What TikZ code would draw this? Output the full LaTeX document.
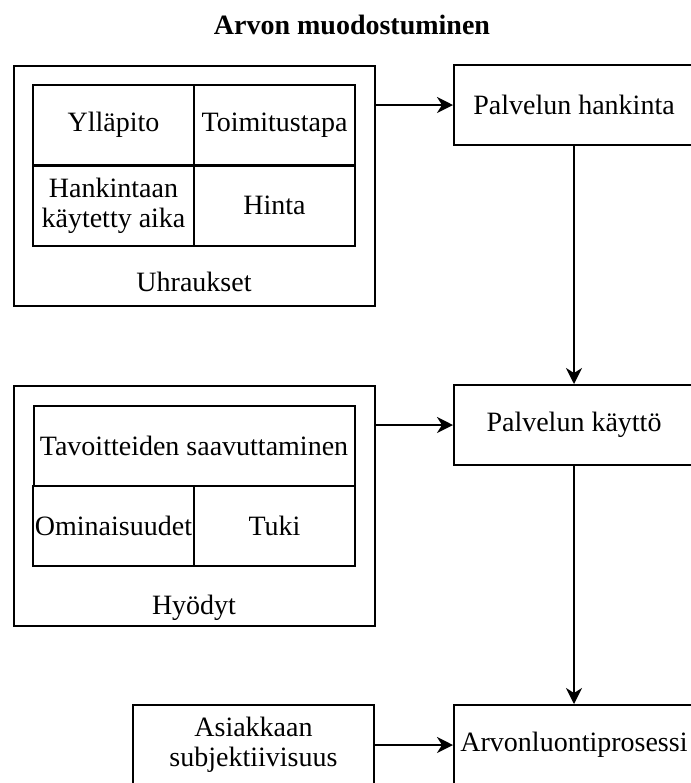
\documentclass[tikz,border=0pt]{standalone}
\usepackage{fontspec}
\setmainfont{Liberation Serif}
\usetikzlibrary{arrows.meta}

\begin{document}
\begin{tikzpicture}[
  x=0.5pt, y=-0.5pt,
  every node/.style={font=\fontsize{14}{15}\selectfont, inner sep=0pt, align=center},
  box/.style={draw, line width=1pt, minimum width=120pt, minimum height=40pt},
  frame/.style={draw, line width=1pt, minimum width=180.5pt, minimum height=120pt},
  cell/.style={draw, line width=1pt, minimum width=80.5pt, minimum height=40pt},
  wide/.style={draw, line width=1pt, minimum width=160.5pt, minimum height=40pt},
  flow/.style={line width=1pt, -{Stealth[length=8pt, width=8pt, inset=2.5pt]}}
]
\useasboundingbox (0,0) rectangle (691,783);
\clip (0,0) rectangle (691,783);

% heading
\node[font=\fontsize{14}{15}\selectfont\bfseries] (title) at (352,25) {Arvon muodostuminen};

% sacrifices group
\node[frame] (uh) at (194.5,185.5) {};
\node (uhl) at (194,282) {Uhraukset};
\node[cell] (c1) at (113.5,125) {Ylläpito};
\node[cell] (c2) at (274.5,125) {Toimitustapa};
\node[cell] (c3) at (113.5,205.5) {Hankintaan\\käytetty aika};
\node[cell] (c4) at (274.5,205.5) {Hinta};

% benefits group
\node[frame] (hy) at (194.5,505.5) {};
\node (hyl) at (194,608) {Hyödyt};
\node[wide] (b1) at (194,446) {Tavoitteiden saavuttaminen};
\node[cell] (b2) at (113.5,525.5) {Ominaisuudet};
\node[cell] (b3) at (274.5,525.5) {Tuki};

% process column
\node[box] (ph) at (574,105) {Palvelun hankinta};
\node[box] (pk) at (574,425) {Palvelun käyttö};
\node[box] (ap) at (574,745) {Arvonluontiprosessi};
\node[draw, line width=1pt, minimum width=120.5pt, minimum height=40pt] (as) at (253.5,745) {Asiakkaan\\subjektiivisuus};

% connectors
\draw[flow] (uh.east |- ph.west) -- (ph.west);
\draw[flow] (hy.east |- pk.west) -- (pk.west);
\draw[flow] (as.east) -- (ap.west);
\draw[flow] (ph.south) -- (pk.north);
\draw[flow] (pk.south) -- (ap.north);
\end{tikzpicture}
\end{document}
